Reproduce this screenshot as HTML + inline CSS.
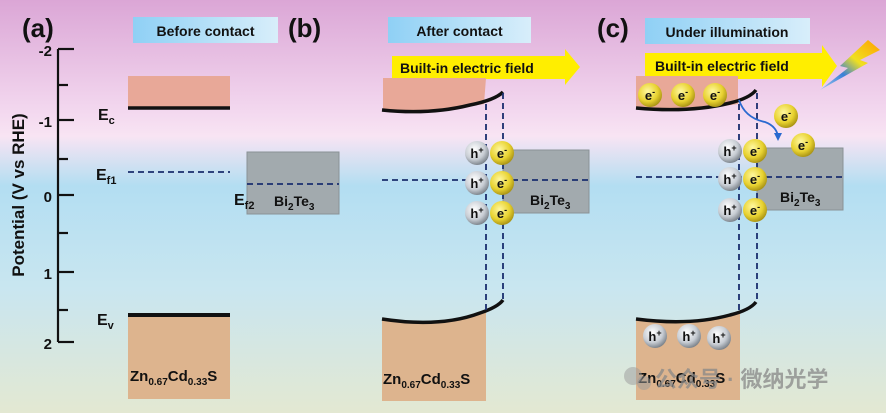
<!DOCTYPE html>
<html><head><meta charset="utf-8"><style>
html,body{margin:0;padding:0;width:886px;height:413px;overflow:hidden}
svg{display:block}
text{font-family:"Liberation Sans","Noto Sans CJK SC",sans-serif;font-weight:bold;fill:#111}
</style></head><body>
<svg width="886" height="413" viewBox="0 0 886 413" xmlns="http://www.w3.org/2000/svg">
<defs>
<linearGradient id="bg" x1="0" y1="0" x2="0" y2="1">
<stop offset="0" stop-color="#dba6d6"/><stop offset="0.27" stop-color="#f3d8ef"/>
<stop offset="0.33" stop-color="#f8e4f3"/><stop offset="0.45" stop-color="#b3def2"/>
<stop offset="0.7" stop-color="#c9e6f0"/><stop offset="1" stop-color="#e3e8d2"/>
</linearGradient>
<linearGradient id="lab" x1="0" y1="0" x2="1" y2="0">
<stop offset="0" stop-color="#8fd0f5"/><stop offset="1" stop-color="#d8eefa"/>
</linearGradient>
<radialGradient id="eg" cx="0.4" cy="0.35" r="0.7">
<stop offset="0" stop-color="#fff8a0"/><stop offset="0.6" stop-color="#e8d230"/><stop offset="1" stop-color="#a08a10"/>
</radialGradient>
<radialGradient id="hg" cx="0.4" cy="0.35" r="0.7">
<stop offset="0" stop-color="#ffffff"/><stop offset="0.6" stop-color="#c8cdd4"/><stop offset="1" stop-color="#707880"/>
</radialGradient>
<linearGradient id="bolt" x1="1" y1="0" x2="0" y2="1">
<stop offset="0" stop-color="#ffa000"/><stop offset="0.4" stop-color="#f0e020"/><stop offset="0.65" stop-color="#3a80d8"/><stop offset="1" stop-color="#a0c8f0"/>
</linearGradient>
</defs>
<rect width="886" height="413" fill="url(#bg)"/>

<!-- axis -->
<g stroke="#111" stroke-width="2.2" fill="none">
<line x1="58" y1="49" x2="58" y2="342"/>
<line x1="58" y1="49" x2="74" y2="49"/><line x1="58" y1="85" x2="68" y2="85"/>
<line x1="58" y1="120" x2="74" y2="120"/><line x1="58" y1="159" x2="68" y2="159"/>
<line x1="58" y1="195" x2="74" y2="195"/><line x1="58" y1="233" x2="68" y2="233"/>
<line x1="58" y1="272" x2="74" y2="272"/><line x1="58" y1="310" x2="68" y2="310"/>
<line x1="58" y1="342" x2="74" y2="342"/>
</g>
<g font-size="15" text-anchor="end">
<text x="52" y="56">-2</text><text x="52" y="127">-1</text><text x="52" y="202">0</text>
<text x="52" y="279">1</text><text x="52" y="349">2</text>
</g>
<text transform="translate(24,195) rotate(-90)" font-size="17" text-anchor="middle">Potential (V vs RHE)</text>

<!-- labels -->
<text x="22" y="37" font-size="26">(a)</text>
<text x="288" y="37" font-size="26">(b)</text>
<text x="597" y="37" font-size="26">(c)</text>
<rect x="133" y="17" width="145" height="26" fill="url(#lab)"/>
<text x="205.5" y="36" font-size="14" text-anchor="middle">Before contact</text>
<rect x="388" y="17" width="143" height="26" fill="url(#lab)"/>
<text x="459.5" y="36" font-size="14" text-anchor="middle">After contact</text>
<rect x="645" y="18" width="165" height="26" fill="url(#lab)"/>
<text x="727" y="37" font-size="14" text-anchor="middle">Under illumination</text>

<!-- panel a -->
<rect x="128" y="76" width="102" height="32" fill="#e8a898"/>
<line x1="128" y1="108" x2="230" y2="108" stroke="#111" stroke-width="3.5"/>
<text x="98" y="120" font-size="16">E<tspan font-size="11" dy="4">c</tspan></text>
<line x1="128" y1="172" x2="230" y2="172" stroke="#1a2e6e" stroke-width="1.8" stroke-dasharray="6,4"/>
<text x="96" y="180" font-size="16">E<tspan font-size="11" dy="4">f1</tspan></text>
<rect x="247" y="152" width="92" height="62" fill="#a2aaae" stroke="#8a9296"/>
<line x1="247" y1="184" x2="339" y2="184" stroke="#1a2e6e" stroke-width="1.8" stroke-dasharray="6,4"/>
<text x="234" y="205" font-size="16">E<tspan font-size="11" dy="4">f2</tspan></text>
<text x="274" y="206" font-size="14">Bi<tspan font-size="10" dy="4">2</tspan><tspan dy="-4">Te</tspan><tspan font-size="10" dy="4">3</tspan></text>
<rect x="128" y="317" width="102" height="82" fill="#ddb48e"/>
<line x1="128" y1="315" x2="230" y2="315" stroke="#111" stroke-width="4"/>
<text x="97" y="325" font-size="16">E<tspan font-size="11" dy="4">v</tspan></text>
<text x="130" y="381" font-size="15">Zn<tspan font-size="10" dy="4">0.67</tspan><tspan dy="-4">Cd</tspan><tspan font-size="10" dy="4">0.33</tspan><tspan dy="-4">S</tspan></text>

<!-- panel b -->
<polygon points="392,56 565,56 565,49 580,67 565,85 565,79 392,79" fill="#ffee00"/>
<text x="400" y="73" font-size="14">Built-in electric field</text>
<path d="M383,78 L486,78 L484,104 Q440,112 383,110 Z" fill="#e8a898"/>
<path d="M382,110 Q430,115 470,105 Q495,100 503,92" stroke="#111" stroke-width="3.5" fill="none"/>
<rect x="503" y="150" width="86" height="63" fill="#a2aaae" stroke="#8a9296"/>
<text x="530" y="205" font-size="14">Bi<tspan font-size="10" dy="4">2</tspan><tspan dy="-4">Te</tspan><tspan font-size="10" dy="4">3</tspan></text>
<path d="M382,320 Q440,328 480,313 Q498,307 503,300 L486,313 L486,401 L382,401 Z" fill="#ddb48e"/>
<path d="M382,319 Q440,328 480,313 Q498,307 503,300" stroke="#111" stroke-width="3.5" fill="none"/>
<text x="383" y="384" font-size="15">Zn<tspan font-size="10" dy="4">0.67</tspan><tspan dy="-4">Cd</tspan><tspan font-size="10" dy="4">0.33</tspan><tspan dy="-4">S</tspan></text>
<g stroke="#1a2e6e" stroke-width="1.8" stroke-dasharray="6,4" fill="none">
<line x1="486" y1="104" x2="486" y2="313"/><line x1="503" y1="93" x2="503" y2="300"/>
<line x1="382" y1="180" x2="589" y2="180"/>
</g>

<!-- panel c -->
<polygon points="645,53 822,53 822,45 837,66 822,87 822,79 645,79" fill="#ffee00"/>
<text x="655" y="71" font-size="14">Built-in electric field</text>
<polygon points="868,40 880,50 860,60 868,63 820,90 848,68 840,66" fill="url(#bolt)"/>
<path d="M636,76 L738,76 L738,104 Q690,112 636,109 Z" fill="#e8a898"/>
<path d="M636,108 Q690,113 730,103 Q750,98 756,90" stroke="#111" stroke-width="3.5" fill="none"/>
<rect x="757" y="148" width="86" height="62" fill="#a2aaae" stroke="#8a9296"/>
<text x="780" y="202" font-size="14">Bi<tspan font-size="10" dy="4">2</tspan><tspan dy="-4">Te</tspan><tspan font-size="10" dy="4">3</tspan></text>
<path d="M636,320 Q690,326 730,315 Q750,310 756,302 L740,314 L740,400 L636,400 Z" fill="#ddb48e"/>
<path d="M636,319 Q690,326 730,315 Q750,310 756,302" stroke="#111" stroke-width="3.5" fill="none"/>
<g stroke="#1a2e6e" stroke-width="1.8" stroke-dasharray="6,4" fill="none">
<line x1="739" y1="104" x2="739" y2="314"/><line x1="757" y1="93" x2="757" y2="302"/>
<line x1="636" y1="177" x2="843" y2="177"/>
</g>
<path d="M739,100 Q745,118 765,122 Q776,126 778,136" stroke="#2a6ad0" stroke-width="1.8" fill="none"/>
<polygon points="774,133 782,133 778,141" fill="#2a6ad0"/>

<!-- charges -->
<g font-size="13" text-anchor="middle">
<g id="eb">
<circle cx="477" cy="153" r="12" fill="url(#hg)"/><circle cx="502" cy="153" r="12" fill="url(#eg)"/>
<circle cx="477" cy="183" r="12" fill="url(#hg)"/><circle cx="502" cy="183" r="12" fill="url(#eg)"/>
<circle cx="477" cy="213" r="12" fill="url(#hg)"/><circle cx="502" cy="213" r="12" fill="url(#eg)"/>
<text x="477" y="158">h<tspan font-size="9" dy="-5">+</tspan></text><text x="502" y="158">e<tspan font-size="9" dy="-5">-</tspan></text>
<text x="477" y="188">h<tspan font-size="9" dy="-5">+</tspan></text><text x="502" y="188">e<tspan font-size="9" dy="-5">-</tspan></text>
<text x="477" y="218">h<tspan font-size="9" dy="-5">+</tspan></text><text x="502" y="218">e<tspan font-size="9" dy="-5">-</tspan></text>
</g>
<circle cx="730" cy="151" r="12" fill="url(#hg)"/><circle cx="755" cy="151" r="12" fill="url(#eg)"/>
<circle cx="730" cy="179" r="12" fill="url(#hg)"/><circle cx="755" cy="179" r="12" fill="url(#eg)"/>
<circle cx="730" cy="210" r="12" fill="url(#hg)"/><circle cx="755" cy="210" r="12" fill="url(#eg)"/>
<text x="730" y="156">h<tspan font-size="9" dy="-5">+</tspan></text><text x="755" y="156">e<tspan font-size="9" dy="-5">-</tspan></text>
<text x="730" y="184">h<tspan font-size="9" dy="-5">+</tspan></text><text x="755" y="184">e<tspan font-size="9" dy="-5">-</tspan></text>
<text x="730" y="215">h<tspan font-size="9" dy="-5">+</tspan></text><text x="755" y="215">e<tspan font-size="9" dy="-5">-</tspan></text>
<circle cx="650" cy="95" r="12" fill="url(#eg)"/><circle cx="683" cy="95" r="12" fill="url(#eg)"/><circle cx="715" cy="95" r="12" fill="url(#eg)"/>
<text x="650" y="100">e<tspan font-size="9" dy="-5">-</tspan></text><text x="683" y="100">e<tspan font-size="9" dy="-5">-</tspan></text><text x="715" y="100">e<tspan font-size="9" dy="-5">-</tspan></text>
<circle cx="786" cy="116" r="12" fill="url(#eg)"/><circle cx="803" cy="145" r="12" fill="url(#eg)"/>
<text x="786" y="121">e<tspan font-size="9" dy="-5">-</tspan></text><text x="803" y="150">e<tspan font-size="9" dy="-5">-</tspan></text>
<circle cx="655" cy="336" r="12" fill="url(#hg)"/><circle cx="689" cy="336" r="12" fill="url(#hg)"/><circle cx="719" cy="338" r="12" fill="url(#hg)"/>
<text x="655" y="341">h<tspan font-size="9" dy="-5">+</tspan></text><text x="689" y="341">h<tspan font-size="9" dy="-5">+</tspan></text><text x="719" y="343">h<tspan font-size="9" dy="-5">+</tspan></text>
</g>
<text x="638" y="383" font-size="15">Zn<tspan font-size="10" dy="4">0.67</tspan><tspan dy="-4">Cd</tspan><tspan font-size="10" dy="4">0.33</tspan><tspan dy="-4">S</tspan></text>
<circle cx="633" cy="376" r="9" fill="#999" opacity="0.5"/><circle cx="644" cy="383" r="7" fill="#999" opacity="0.5"/>
<text x="655" y="387" font-size="22" font-weight="normal" style="fill:#888;opacity:0.75">公众号 · 微纳光学</text>
</svg>
</body></html>
